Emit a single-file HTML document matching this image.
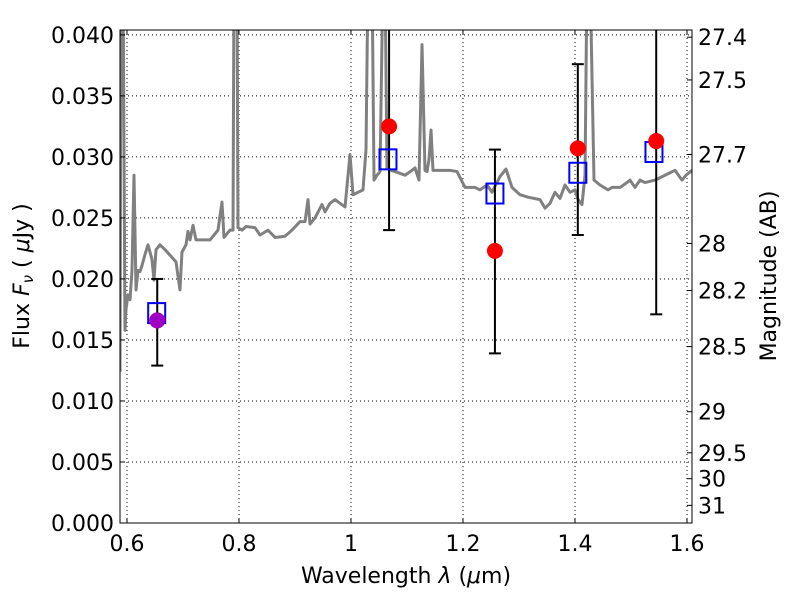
<!DOCTYPE html>
<html><head><meta charset="utf-8"><style>
body{margin:0;background:#fff}
svg text{font-family:"DejaVu Sans","Liberation Sans",sans-serif;font-size:22px;fill:#000}
</style></head><body>
<svg id="chart" width="800" height="600" xmlns="http://www.w3.org/2000/svg">
<defs><clipPath id="clip"><rect x="120" y="30" width="572" height="493"/></clipPath></defs>
<rect x="0" y="0" width="800" height="600" fill="#fff"/>
<g id="grid"></g>
<g id="spec" clip-path="url(#clip)"></g>
<g id="marks" clip-path="url(#clip)"></g>
<rect x="120" y="30" width="572" height="493" fill="none" stroke="#000" stroke-width="1"/>
<g id="axes"></g>
<text x="406" y="583" text-anchor="middle">Wavelength  <tspan font-style="italic">λ</tspan> (<tspan font-style="italic">μ</tspan>m)</text>
<text transform="translate(29,276) rotate(-90)" text-anchor="middle">Flux  <tspan font-style="italic">F</tspan><tspan font-style="italic" font-size="15" dy="4">ν</tspan><tspan dy="-4">  ( </tspan><tspan font-style="italic">μ</tspan>Jy )</text>
<text transform="translate(776,276) rotate(-90)" text-anchor="middle">Magnitude (AB)</text>
</svg>
<script>
const xTicks=[0.6,0.8,1.0,1.2,1.4,1.6];
const xTickLabels=["0.6","0.8","1","1.2","1.4","1.6"];
const yTicks=[0,0.005,0.01,0.015,0.02,0.025,0.03,0.035,0.04];
const yTickLabels=["0.000","0.005","0.010","0.015","0.020","0.025","0.030","0.035","0.040"];
const magTicks=[27.4,27.5,27.7,28,28.2,28.5,29,29.5,30,31];
const magTickLabels=["27.4","27.5","27.7","28","28.2","28.5","29","29.5","30","31"];
const specWave=[0.5875,0.5893,0.5929,0.5964,0.5982,0.6018,0.6054,0.6089,0.6125,0.6161,0.6196,0.6232,0.6268,0.6321,0.6375,0.6446,0.6482,0.6518,0.6589,0.6679,0.6875,0.6946,0.6982,0.7054,0.7089,0.7125,0.7179,0.7232,0.7482,0.7625,0.7696,0.7732,0.7839,0.7893,0.7911,0.7964,0.7982,0.8054,0.8125,0.8286,0.8375,0.8518,0.8643,0.8821,0.8946,0.9089,0.9179,0.9232,0.9268,0.9357,0.9482,0.9536,0.9625,0.9714,0.9893,0.9982,1.0036,1.0214,1.0268,1.0304,1.0375,1.0411,1.0464,1.0518,1.0571,1.0607,1.0643,1.0714,1.0786,1.0964,1.1089,1.1143,1.1214,1.1268,1.1321,1.1357,1.1393,1.1429,1.1464,1.1536,1.1768,1.1893,1.2036,1.2214,1.2304,1.2429,1.2518,1.2661,1.2768,1.2875,1.3018,1.3161,1.3375,1.3464,1.3554,1.3643,1.3732,1.3821,1.3911,1.4,1.4054,1.4125,1.4179,1.4214,1.4268,1.4339,1.4446,1.4589,1.4661,1.4804,1.4929,1.4982,1.5071,1.5161,1.525,1.5429,1.5607,1.5786,1.5911,1.5982,1.6089];
const specFlux=[0.0124,0.045,0.045,0.0158,0.0175,0.0187,0.0183,0.0207,0.0285,0.0191,0.0207,0.0206,0.0211,0.022,0.0228,0.0216,0.0199,0.0224,0.0228,0.0224,0.0214,0.0191,0.0222,0.0228,0.0239,0.0232,0.0244,0.0232,0.0232,0.024,0.0263,0.0234,0.024,0.024,0.045,0.045,0.0242,0.024,0.0243,0.0242,0.0236,0.024,0.0234,0.0235,0.024,0.0247,0.0247,0.0265,0.0245,0.025,0.0261,0.0255,0.0262,0.0265,0.0259,0.0302,0.0269,0.0273,0.0306,0.045,0.045,0.0281,0.0285,0.0288,0.045,0.045,0.0291,0.0289,0.0288,0.0285,0.0289,0.0291,0.0281,0.0392,0.0289,0.0288,0.0298,0.0322,0.0289,0.0289,0.0289,0.0288,0.0275,0.0275,0.0273,0.0277,0.0271,0.0284,0.029,0.0275,0.0269,0.0267,0.0265,0.0258,0.0262,0.0271,0.0266,0.0277,0.0271,0.0273,0.0265,0.0261,0.0285,0.045,0.045,0.0281,0.0277,0.0273,0.0275,0.0275,0.0279,0.0281,0.0275,0.0281,0.0279,0.0281,0.0285,0.0289,0.0281,0.0285,0.0289];
const photWave=[0.654,1.068,1.257,1.405,1.545];
const photFlux=[0.0166,0.0325,0.0223,0.0307,0.0313];
const photErrLow=[0.0129,0.0240,0.0139,0.0236,0.0171];
const photErrHigh=[0.0200,0.0410,0.0306,0.0376,0.0430];
const photColor=["#a000c0","#ff0000","#ff0000","#ff0000","#ff0000"];
const modelWave=[0.653,1.066,1.257,1.405,1.541];
const modelFlux=[0.0172,0.0298,0.0270,0.0287,0.0304];

const X0=120,X1=692,Y0=30,Y1=523,xmin=0.5875,xmax=1.6089,ymin=0,ymax=0.0404;
const sx=v=>X0+(v-xmin)/(xmax-xmin)*(X1-X0);
const sy=v=>Y1-(v-ymin)/(ymax-ymin)*(Y1-Y0);
const NS="http://www.w3.org/2000/svg";
function mk(parent,tag,attrs){const e=document.createElementNS(NS,tag);for(const k in attrs)e.setAttribute(k,attrs[k]);parent.appendChild(e);return e;}
const grid=document.getElementById('grid'),axes=document.getElementById('axes');
xTicks.forEach((t,i)=>{const x=sx(t);
 const g=mk(grid,'line',{x1:x,x2:x,y1:Y0,y2:Y1,stroke:'#000','stroke-dasharray':'1,3','stroke-width':1});
 
 mk(axes,'line',{x1:x,x2:x,y1:Y1,y2:Y1-5,stroke:'#000'});mk(axes,'line',{x1:x,x2:x,y1:Y0,y2:Y0+5,stroke:'#000'});
 const tx=mk(axes,'text',{x:x,y:Y1+28,'text-anchor':'middle'});tx.textContent=xTickLabels[i];
 });
yTicks.forEach((t,i)=>{const y=sy(t);
 const g=mk(grid,'line',{x1:X0,x2:X1,y1:y,y2:y,stroke:'#000','stroke-dasharray':'1,3','stroke-width':1});
 
 mk(axes,'line',{x1:X0,x2:X0+5,y1:y,y2:y,stroke:'#000'});
 const tx=mk(axes,'text',{x:X0-6,y:y+8,'text-anchor':'end'});tx.textContent=yTickLabels[i];
 });
magTicks.forEach((m,i)=>{const y=sy(Math.pow(10,(23.9-m)/2.5));
 mk(axes,'line',{x1:X1,x2:X1-5,y1:y,y2:y,stroke:'#000'});
 const tx=mk(axes,'text',{x:X1+6,y:y+8,'text-anchor':'start'});tx.textContent=magTickLabels[i];
 });
const spec=document.getElementById('spec');
const p=mk(spec,'polyline',{points:specWave.map((w,i)=>sx(w)+','+sy(specFlux[i])).join(' '),fill:'none',stroke:'#808080','stroke-width':3,'stroke-linejoin':'round'});

const marks=document.getElementById('marks');
photWave.forEach((w,i)=>{const x=sx(w);
 const e=mk(marks,'g',{});
 mk(e,'line',{x1:x,x2:x,y1:sy(photErrLow[i]),y2:sy(photErrHigh[i]),stroke:'#000','stroke-width':2});
 [photErrLow[i],photErrHigh[i]].forEach(v=>mk(e,'line',{x1:x-6,x2:x+6,y1:sy(v),y2:sy(v),stroke:'#000','stroke-width':2}));});
modelWave.forEach((w,i)=>{const r=mk(marks,'rect',{x:sx(w)-8.5,y:sy(modelFlux[i])-10,width:17,height:20,fill:'none',stroke:'#0000ff','stroke-width':2});
 });
photWave.forEach((w,i)=>{const c=mk(marks,'circle',{cx:sx(w),cy:sy(photFlux[i]),r:8,fill:photColor[i]});
 });
</script>
</body></html>
